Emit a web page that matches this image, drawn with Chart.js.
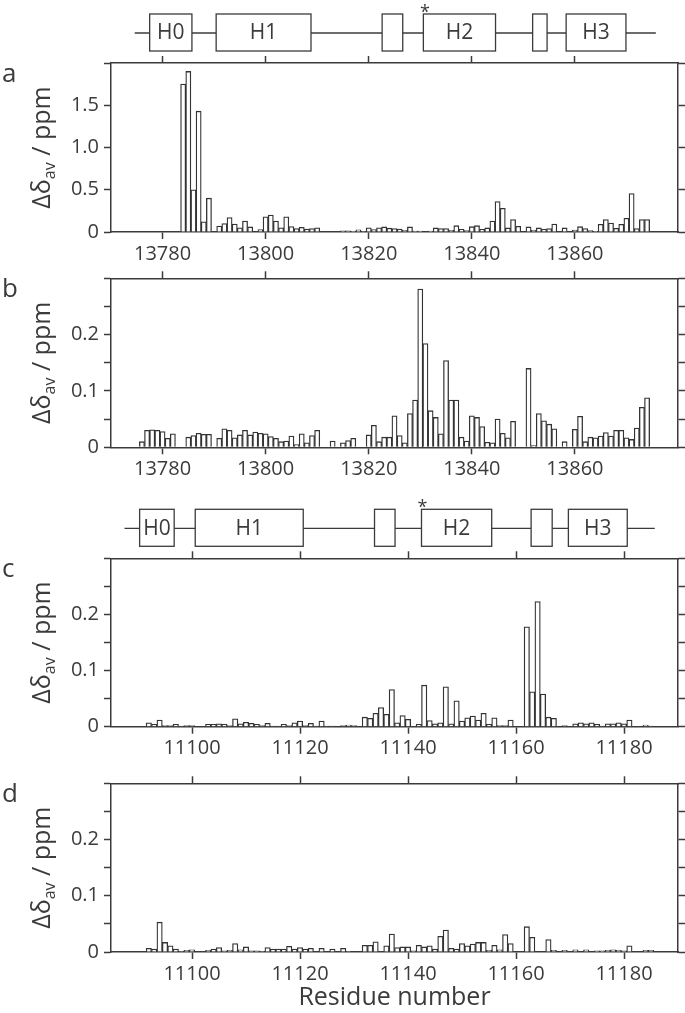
<!DOCTYPE html>
<html>
<head>
<meta charset="utf-8">
<script src="https://cdn.jsdelivr.net/npm/chart.js@4"></script>
<style>
  body { margin: 0; background: #fff; width: 685px; height: 1013px; position: relative; overflow: hidden; }
  canvas { position: absolute; left: 0; }
</style>
</head>
<body>
<canvas id="pa" width="685" height="268" style="top:0px"></canvas>
<canvas id="pb" width="685" height="212" style="top:268px"></canvas>
<canvas id="pc" width="685" height="280" style="top:480px"></canvas>
<canvas id="pd" width="685" height="253" style="top:760px"></canvas>
<script>
// ---------- Data ----------
const xTicksA = [13780, 13800, 13820, 13840, 13860];
const xTicksC = [11100, 11120, 11140, 11160, 11180];
const yTicksA = [0, 0.5, 1.0, 1.5, 2.0];
const yLabelsA = ["0", "0.5", "1.0", "1.5", ""];
const yTicksB = [0, 0.05, 0.1, 0.15, 0.2, 0.25, 0.3];
const yLabelsB = ["0", "", "0.1", "", "0.2", "", ""];

// panel a: first residue 13784
const firstA = 13784;
const valuesA = [
  1.75, 1.90, 0.50, 1.43, 0.12, 0.40, null, 0.07, 0.10, 0.17,
  0.095, 0.05, 0.13, 0.06, null, 0.03, 0.18, 0.20, 0.13, 0.05,
  0.18, 0.065, 0.04, 0.055, 0.035, 0.04, 0.05, null, null, null,
  null, 0.015, 0.015, 0.008, 0.025, 0.005, 0.05, 0.03, 0.05, 0.06,
  0.045, 0.04, 0.036, 0.02, 0.06, 0.012, 0.012, null, 0.012, 0.048,
  0.04, 0.04, 0.02, 0.075, 0.032, 0.016, 0.063, 0.075, 0.032, 0.048,
  0.13, 0.36, 0.28, 0.048, 0.147, 0.067, null, 0.06, 0.024, 0.048,
  0.032, 0.04, 0.095, null, 0.048, null, 0.024, 0.063, 0.04, 0.016,
  0.008, 0.09, 0.147, 0.107, 0.044, 0.09, 0.163, 0.456, 0.04, 0.147,
  0.147
];

// panel b: first residue 13776
const firstB = 13776;
const valuesB = [
  0.010, 0.030, 0.031, 0.030, 0.028, 0.016, 0.024, null, null, 0.018,
  0.021, 0.025, 0.023, 0.023, null, 0.016, 0.033, 0.030, 0.017, 0.022,
  0.030, 0.022, 0.027, 0.025, 0.024, 0.019, 0.016, 0.010, 0.011, 0.020,
  0.005, 0.024, 0.008, 0.021, 0.030, null, null, 0.011, null, 0.008,
  0.012, 0.016, null, null, 0.022, 0.039, 0.010, 0.018, 0.018, 0.056,
  0.021, 0.008, 0.060, 0.084, 0.281, 0.184, 0.065, 0.053, 0.024, 0.154,
  0.084, 0.084, 0.018, 0.011, 0.056, 0.053, 0.037, 0.009, 0.008, 0.050,
  0.025, 0.017, 0.046, null, null, 0.140, 0.003, 0.060, 0.047, 0.041,
  0.033, null, 0.010, null, 0.032, 0.055, 0.010, 0.018, 0.017, 0.020,
  0.026, 0.020, 0.030, 0.030, 0.017, 0.014, 0.034, 0.071, 0.088
];

// panel c: first residue 11092
const firstC = 11092;
const valuesC = [
  0.007, 0.004, 0.012, 0.002, 0.002, 0.004, 0.001, 0.002, 0.002, null,
  null, 0.004, 0.004, 0.005, 0.004, 0.002, 0.014, 0.005, 0.008, 0.006,
  0.004, 0.002, 0.006, 0.001, 0.001, 0.004, 0.002, 0.007, 0.010, 0.002,
  0.006, 0.001, 0.010, 0.001, 0.001, null, 0.002, 0.003, 0.002, null,
  0.017, 0.015, 0.024, 0.034, 0.022, 0.066, 0.007, 0.020, 0.013, null,
  0.004, 0.074, 0.011, 0.005, 0.007, 0.071, 0.005, 0.046, 0.010, 0.016,
  0.019, 0.012, 0.024, 0.004, 0.016, 0.002, 0.002, 0.012, null, null,
  0.178, 0.062, 0.223, 0.058, 0.017, 0.015, null, 0.002, null, 0.005,
  0.007, 0.005, 0.007, 0.004, 0.001, 0.005, 0.005, 0.007, 0.005, 0.012,
  null, null, 0.003, 0.001
];

// panel d: first residue 11092
const firstD = 11092;
const valuesD = [
  0.0065, 0.005, 0.053, 0.017, 0.011, 0.005, 0.001, 0.003, 0.004, null,
  null, 0.003, 0.005, 0.008, 0.002, 0.003, 0.015, 0.004, 0.009, 0.002,
  0.002, 0.001, 0.008, 0.005, 0.005, 0.005, 0.010, 0.005, 0.008, 0.005,
  0.0065, null, 0.0065, null, 0.005, null, 0.0065, 0.001, null, null,
  0.012, 0.012, 0.018, null, 0.011, 0.032, 0.008, 0.009, 0.009, 0.002,
  0.012, 0.009, 0.011, 0.005, 0.028, 0.039, 0.0065, 0.005, 0.015, 0.011,
  0.014, 0.017, 0.017, 0.003, 0.012, 0.004, 0.031, 0.015, null, null,
  0.045, 0.026, null, null, 0.022, 0.003, null, 0.003, null, 0.004,
  null, 0.004, null, 0.002, 0.002, 0.003, 0.004, 0.003, 0.002, 0.011,
  null, null, 0.003, 0.003
];

// secondary structure (residue ranges)
const domainNames = ["H0", "H1", "", "H2", "", "H3"];
const domainsA = [[13777.5, 13785.7], [13790.4, 13808.8], [13822.6, 13826.6], [13830.6, 13844.6], [13851.8, 13854.6], [13858.3, 13869.9]];
const domainLineA = [13774.6, 13875.7];
const starA = 13830.9;
const domainsC = [[11090.3, 11096.7], [11100.6, 11120.6], [11133.8, 11137.6], [11142.5, 11155.5], [11162.8, 11166.7], [11169.7, 11180.6]];
const domainLineC = [11087.5, 11185.7];
const starC = 11142.7;

// ---------- Helpers ----------
const FONT = '"Open Sans", "DejaVu Sans", sans-serif';
const ink = "#3b3b3b";

function toPoints(first, values) {
    return values.map((v, i) => ({ x: first + i, y: v }));
}

function panelPlugin(p) {
    return {
        id: "panelDeco",
        afterDraw(chart) {
            const ctx = chart.ctx;
            const area = chart.chartArea;
            const xs = chart.scales.x;
            ctx.save();
            ctx.fillStyle = ink;

            // panel letter
            ctx.font = "26px " + FONT;
            ctx.textAlign = "left";
            ctx.textBaseline = "alphabetic";
            ctx.fillText(p.letter, 2, area.top + 19);

            // y title with subscript
            const parts = [["\u0394\u03b4", "25px " + FONT, 0], ["av", "16px " + FONT, 5], [" / ppm", "25px " + FONT, 0]];
            let total = 0;
            parts.forEach(pt => { ctx.font = pt[1]; total += ctx.measureText(pt[0]).width; });
            ctx.translate(50, (area.top + area.bottom) / 2);
            ctx.rotate(-Math.PI / 2);
            let cx = -total / 2;
            parts.forEach(pt => {
                ctx.font = pt[1];
                ctx.fillText(pt[0], cx, pt[2]);
                cx += ctx.measureText(pt[0]).width;
            });
            ctx.setTransform(1, 0, 0, 1, 0, 0);

            // secondary structure diagram
            if (p.domains) {
                const top = area.top - 49, bot = area.top - 12, mid = area.top - 30;
                ctx.strokeStyle = ink;
                ctx.lineWidth = 1.3;
                ctx.beginPath();
                ctx.moveTo(xs.getPixelForValue(p.domainLine[0]), mid);
                ctx.lineTo(xs.getPixelForValue(p.domainLine[1]), mid);
                ctx.stroke();
                ctx.font = "21px " + FONT;
                ctx.textAlign = "center";
                ctx.textBaseline = "middle";
                p.domains.forEach((d, i) => {
                    const x0 = xs.getPixelForValue(d[0]);
                    const x1 = xs.getPixelForValue(d[1]);
                    ctx.fillStyle = "#fff";
                    ctx.fillRect(x0, top, x1 - x0, bot - top);
                    ctx.strokeRect(x0, top, x1 - x0, bot - top);
                    ctx.fillStyle = ink;
                    if (domainNames[i]) ctx.fillText(domainNames[i], (x0 + x1) / 2, (top + bot) / 2 + 1);
                });
                ctx.font = "18px " + FONT;
                ctx.textBaseline = "alphabetic";
                ctx.fillText("*", xs.getPixelForValue(p.star), top + 4);
            }
            ctx.restore();
        }
    };
}

function makeChart(id, p) {
    const tickFont = { family: FONT, size: 20 };
    const border = { display: true, color: ink, width: 1.5 };
    const marks = { drawOnChartArea: false, drawTicks: true, tickLength: 7, tickWidth: 1.5, tickColor: ink, offset: false };
    const xBuild = s => { s.ticks = p.xTicks.map(v => ({ value: v })); };
    const yBuild = s => { s.ticks = p.yTicks.map(v => ({ value: v })); };

    return new Chart(document.getElementById(id), {
        type: "bar",
        data: {
            datasets: [{
                data: toPoints(p.first, p.values),
                backgroundColor: "#fff",
                borderColor: "#333",
                borderWidth: 1.3,
                categoryPercentage: 1,
                barPercentage: 1
            }]
        },
        options: {
            responsive: false,
            animation: false,
            devicePixelRatio: 1,
            layout: { padding: { top: p.padTop, left: 0, right: 0, bottom: 0 } },
            plugins: { legend: { display: false }, tooltip: { enabled: false } },
            scales: {
                x: {
                    type: "linear", position: "bottom", min: p.xMin, max: p.xMax, offset: false,
                    afterBuildTicks: xBuild,
                    afterFit: s => { s.height = p.xHeight; s.paddingLeft = 0; s.paddingRight = 0; },
                    ticks: { font: tickFont, color: ink, padding: 3, maxRotation: 0, autoSkip: false, callback: v => String(v) },
                    grid: marks, border: border,
                    title: p.xTitle
                        ? { display: true, text: p.xTitle, color: ink, font: { family: FONT, size: 25 }, padding: { top: 0, bottom: 0 } }
                        : { display: false }
                },
                x2: {
                    type: "linear", position: "top", min: p.xMin, max: p.xMax, offset: false,
                    afterBuildTicks: xBuild,
                    afterFit: s => { s.height = 7; s.paddingLeft = 0; s.paddingRight = 0; },
                    ticks: { display: false },
                    grid: marks, border: border
                },
                y: {
                    type: "linear", position: "left", min: 0, max: p.yMax,
                    afterBuildTicks: yBuild,
                    afterFit: s => { s.width = 111; s.paddingTop = 0; s.paddingBottom = 0; },
                    ticks: { font: tickFont, color: ink, padding: 5, callback: (v, i) => p.yLabels[i] },
                    grid: marks, border: border
                },
                y2: {
                    type: "linear", position: "right", min: 0, max: p.yMax,
                    afterBuildTicks: yBuild,
                    afterFit: s => { s.width = 7; s.paddingTop = 0; s.paddingBottom = 0; },
                    ticks: { display: false },
                    grid: marks, border: border
                }
            }
        },
        plugins: [panelPlugin(p)]
    });
}

// ---------- Main ----------
makeChart("pa", {
    letter: "a", first: firstA, values: valuesA,
    xMin: 13770, xMax: 13880, xTicks: xTicksA,
    yMax: 2.0, yTicks: yTicksA, yLabels: yLabelsA,
    padTop: 56, xHeight: 36,
    domains: domainsA, domainLine: domainLineA, star: starA
});

makeChart("pb", {
    letter: "b", first: firstB, values: valuesB,
    xMin: 13770, xMax: 13880, xTicks: xTicksA,
    yMax: 0.3, yTicks: yTicksB, yLabels: yLabelsB,
    padTop: 3.3, xHeight: 32.7
});

makeChart("pc", {
    letter: "c", first: firstC, values: valuesC,
    xMin: 11085, xMax: 11190, xTicks: xTicksC,
    yMax: 0.3, yTicks: yTicksB, yLabels: yLabelsB,
    padTop: 71.3, xHeight: 33.3,
    domains: domainsC, domainLine: domainLineC, star: starC
});

makeChart("pd", {
    letter: "d", first: firstD, values: valuesD,
    xMin: 11085, xMax: 11190, xTicks: xTicksC,
    yMax: 0.3, yTicks: yTicksB, yLabels: yLabelsB,
    padTop: 16.3, xHeight: 61,
    xTitle: "Residue number"
});
</script>
</body>
</html>
